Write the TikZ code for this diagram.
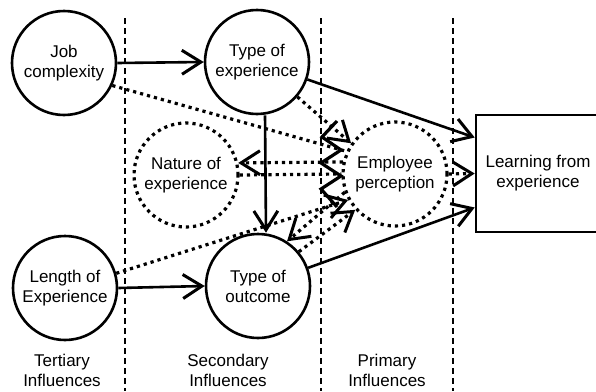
\documentclass[tikz,border=0pt]{standalone}
\usepackage{fontspec}
\setmainfont{Liberation Sans}
\usetikzlibrary{arrows.meta,positioning}
\begin{document}
\begin{tikzpicture}[x=1pt,y=-1pt,
  txt/.style={align=center,font=\fontsize{17}{20}\selectfont},
  solidcirc/.style={circle,draw,line width=2.6pt,minimum size=104pt,inner sep=0pt,txt},
  dotcirc/.style={circle,draw,line width=3.2pt,dash pattern=on 3.2pt off 4pt,minimum size=104pt,inner sep=0pt,txt},
  barb/.style={-{Straight Barb[length=19pt,width=24pt,line width=3pt]}},
  conn/.style={line width=2.6pt,barb},
  dotconn/.style={line width=3.2pt,dash pattern=on 3.2pt off 4pt},
  divider/.style={line width=1.2pt,dash pattern=on 6pt off 4pt},
  label/.style={txt}
]
\useasboundingbox (0,0) rectangle (596,391);
% dividers
\draw[divider] (125,18) -- (125,391);
\draw[divider] (321,18) -- (321,391);
\draw[divider] (453,18) -- (453,391);
% nodes
\node[solidcirc] (job) at (64,63) {Job\\complexity};
\node[solidcirc] (texp) at (257,62) {Type of\\experience};
\node[dotcirc] (nat) at (186,175) {Nature of\\experience};
\node[dotcirc] (emp) at (395,174) {Employee\\perception};
\node[solidcirc] (len) at (65,288) {Length of\\Experience};
\node[solidcirc] (out) at (258,286) {Type of\\outcome};
\node[draw,line width=2.6pt,minimum width=124pt,minimum height=117pt,txt] (learn) at (538,173.5) {Learning from\\experience};
% bottom labels
\node[label] (tert) at (62,370) {Tertiary\\Influences};
\node[label] (sec) at (228,370) {Secondary\\Influences};
\node[label] (prim) at (387,370) {Primary\\Influences};
% solid connectors
\draw[conn] (job.east) -- (texp.west);
\draw[conn] (len.east) -- (out.west);
\draw[conn] ([xshift=8pt]texp.south) -- ([xshift=8pt]out.north);
\draw[conn] (texp) -- ([yshift=36pt]learn.west);
\draw[conn] (out) -- ([yshift=-34pt]learn.west);
% dotted connectors
\draw[dotconn,barb] (emp.east) -- (learn.west);
\draw[dotconn] (job.-25) -- (emp.155);
\draw[dotconn,barb] (texp) -- (emp.145);
\draw[dotconn,barb] (emp.167) -- (nat.13);
\draw[dotconn] (nat.east) -- (emp.west);
\draw[dotconn,barb] (len.16) -- (emp.209);
\draw[dotconn,barb] (emp.200) -- (out.57);
\draw[dotconn,barb] (out.40) -- (emp.222);
% zigzag filter
\draw[line width=3.2pt,line join=miter] (337,121) -- (322,137) -- (341,150) -- (321,163) -- (341,176) -- (321,189) -- (337,207);
\end{tikzpicture}
\end{document}
